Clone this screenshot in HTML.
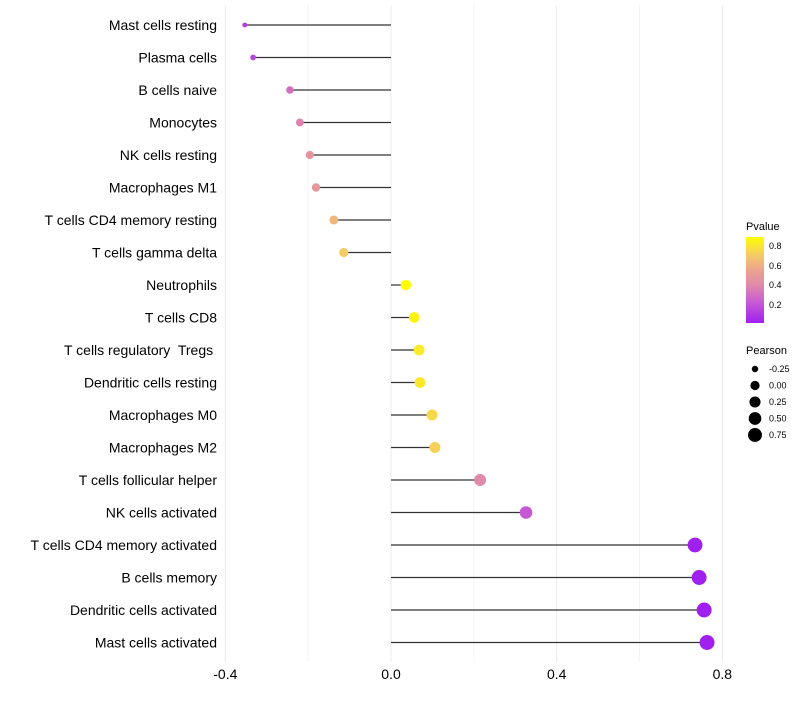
<!DOCTYPE html>
<html><head><meta charset="utf-8"><style>body{margin:0;background:#fff}svg{font-family:"Liberation Sans",sans-serif}text{white-space:pre}</style></head>
<body>
<svg id="chart" width="800" height="700" xmlns="http://www.w3.org/2000/svg">
<defs><linearGradient id="pg" x1="0" y1="1" x2="0" y2="0">
<stop offset="0" stop-color="#a020f0"/><stop offset="0.25" stop-color="#c95cd2"/><stop offset="0.45" stop-color="#e08ca8"/><stop offset="0.6" stop-color="#eba090"/><stop offset="0.78" stop-color="#f5c86a"/><stop offset="1" stop-color="#ffff00"/></linearGradient></defs>
<g id="grid"></g><g id="marks"></g><g id="labels"></g>
<g>
<text x="746" y="230" font-size="11">Pvalue</text>
<rect x="746" y="237" width="18" height="86" fill="url(#pg)"/>
<text x="769" y="249" font-size="9">0.8</text><text x="769" y="269" font-size="9">0.6</text>
<text x="769" y="288" font-size="9">0.4</text><text x="769" y="308" font-size="9">0.2</text>
</g>
<g id="sizeleg"><text x="746" y="354" font-size="11">Pearson</text></g>
</svg>
<script>
const categories=["Mast cells resting","Plasma cells","B cells naive","Monocytes","NK cells resting","Macrophages M1","T cells CD4 memory resting","T cells gamma delta","Neutrophils","T cells CD8","T cells regulatory  Tregs ","Dendritic cells resting","Macrophages M0","Macrophages M2","T cells follicular helper","NK cells activated","T cells CD4 memory activated","B cells memory","Dendritic cells activated","Mast cells activated"];
const pearson=[-0.353,-0.333,-0.244,-0.22,-0.196,-0.181,-0.138,-0.114,0.036,0.056,0.068,0.07,0.099,0.106,0.215,0.326,0.734,0.744,0.756,0.763];
const pvalue=[0.13,0.15,0.3,0.38,0.46,0.48,0.62,0.7,0.88,0.84,0.81,0.8,0.75,0.72,0.4,0.22,0.02,0.02,0.02,0.02];
const xTicks=[-0.4,0,0.4,0.8];
const xTickLabels=["-0.4","0.0","0.4","0.8"];
const sizeLegend=[-0.25,0,0.25,0.5,0.75];
const sizeLegendLabels=["-0.25","0.00","0.25","0.50","0.75"];
const NS="http://www.w3.org/2000/svg";
const X=v=>391+v*414.2, Y=i=>25+i*32.5, R=v=>2+5.5*Math.sqrt(Math.max(0,(v+0.36)/1.12));
const stops=[[0,[160,32,240]],[0.25,[201,92,210]],[0.45,[224,140,168]],[0.6,[235,160,144]],[0.78,[245,200,106]],[1,[255,255,0]]];
function col(p){const t=Math.min(1,Math.max(0,(p-0.02)/0.86));
for(let k=1;k<stops.length;k++){if(t<=stops[k][0]){const [t0,a]=stops[k-1],[t1,b]=stops[k];const f=(t-t0)/(t1-t0);
return `rgb(${a.map((x,j)=>Math.round(x+(b[j]-x)*f)).join(',')})`;}}return 'rgb(255,255,0)';}
function mk(t,a,p){const e=document.createElementNS(NS,t);for(const k in a)e.setAttribute(k,a[k]);p.appendChild(e);return e;}
const grid=document.getElementById('grid'),marks=document.getElementById('marks'),labels=document.getElementById('labels');
for(let v=-0.4;v<=0.81;v+=0.2){const l=mk('line',{x1:X(v),x2:X(v),y1:5,y2:662,stroke:Math.abs(Math.round(v*10))%4==0?'#ebebeb':'#f4f4f4'},grid);
}
xTicks.forEach((v,i)=>{const t=mk('text',{x:X(v),y:679,'font-size':14,'text-anchor':'middle'},labels);t.textContent=xTickLabels[i];
});
categories.forEach((c,i)=>{const y=Y(i);
const t=mk('text',{x:217,y:y+5,'font-size':14,'text-anchor':'end'},labels);t.textContent=c;

const l=mk('line',{x1:X(0),x2:X(pearson[i]),y1:y,y2:y,stroke:'#333','stroke-width':1.2},marks);

const d=mk('circle',{cx:X(pearson[i]),cy:y,r:R(pearson[i]),fill:col(pvalue[i])},marks);
});
const sl=document.getElementById('sizeleg');
sizeLegend.forEach((v,i)=>{const y=369+i*16.5;const c=mk('circle',{cx:755,cy:y,r:R(v)-0.5,fill:'#000'},sl);

const t=mk('text',{x:769,y:y+3,'font-size':9},sl);t.textContent=sizeLegendLabels[i];
});
</script>
</body></html>
